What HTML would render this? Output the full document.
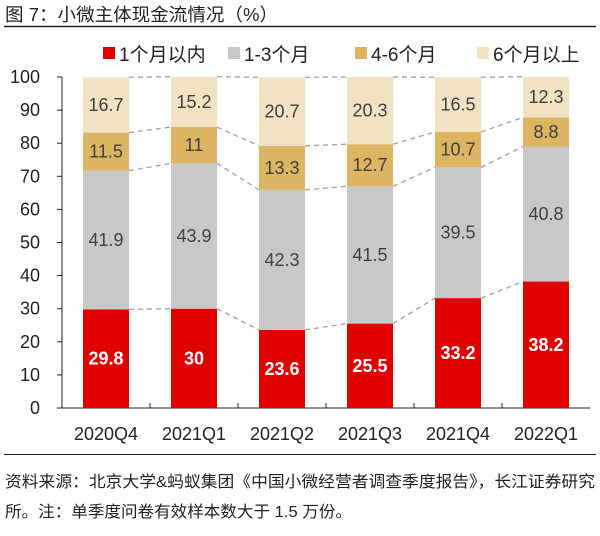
<!DOCTYPE html>
<html><head><meta charset="utf-8">
<style>
body{margin:0;background:#fff;width:600px;height:531px;overflow:hidden;font-family:"Liberation Sans","Noto Sans CJK SC",sans-serif;}
</style></head><body>
<svg id="c" width="600" height="531" xmlns="http://www.w3.org/2000/svg" font-family="Liberation Sans, Noto Sans CJK SC, sans-serif">
<text x="5" y="21" font-size="18" textLength="273" lengthAdjust="spacingAndGlyphs" fill="#222">图 7：小微主体现金流情况（%）</text>
<line x1="4" y1="26.5" x2="596" y2="26.5" stroke="#222" stroke-width="1.5"/>
<line x1="4" y1="454.5" x2="596" y2="454.5" stroke="#222" stroke-width="1"/>
<text x="5" y="487" font-size="16" textLength="590" lengthAdjust="spacingAndGlyphs" fill="#222">资料来源：北京大学&amp;蚂蚁集团《中国小微经营者调查季度报告》，长江证券研究</text>
<text x="5" y="517" font-size="16" textLength="347" lengthAdjust="spacingAndGlyphs" fill="#222">所。注：单季度问卷有效样本数大于 1.5 万份。</text>
<g id="legend"></g>
<g id="plot"></g>
</svg>
<script>
const categories=["2020Q4","2021Q1","2021Q2","2021Q3","2021Q4","2022Q1"];
const s1=[29.8,30,23.6,25.5,33.2,38.2];
const s2=[41.9,43.9,42.3,41.5,39.5,40.8];
const s3=[11.5,11,13.3,12.7,10.7,8.8];
const s4=[16.7,15.2,20.7,20.3,16.5,12.3];
const seriesNames=["1个月以内","1-3个月","4-6个月","6个月以上"];
const yTicks=[0,10,20,30,40,50,60,70,80,90,100];
const series=[s1,s2,s3,s4];
const colors=["#e00000","#c8c8c8","#dcb462","#f2e2c4"];
const labelColors=["#fff","#404040","#404040","#404040"];
const NS="http://www.w3.org/2000/svg";
const X0=62,W=528,Y0=408,Y100=77,BW=46;
const step=W/categories.length;
const y=v=>Y0-(Y0-Y100)*v/100;
const xc=i=>X0+step*(i+0.5);
const plot=document.getElementById('plot');
function mk(tag,at,parent){const e=document.createElementNS(NS,tag);for(const k in at)e.setAttribute(k,at[k]);(parent||plot).appendChild(e);return e;}
let ax=mk('line',{x1:X0,y1:Y100,x2:X0,y2:Y0,stroke:'#222'});


let bx=mk('line',{x1:X0,y1:Y0,x2:X0+W,y2:Y0,stroke:'#222'});


yTicks.forEach(t=>{
  const tk=mk('line',{x1:X0-5,y1:y(t),x2:X0,y2:y(t),stroke:'#222'});
  
  
  const tl=mk('text',{x:40,y:y(t)+6,'font-size':18,'text-anchor':'end',fill:'#222'});
  tl.textContent=t;
  
  
});
for(let i=1;i<categories.length;i++){
  const tk=mk('line',{x1:X0+step*i,y1:Y0,x2:X0+step*i,y2:Y0-5,stroke:'#222'});
  
  
}
const cum=categories.map((_,i)=>{let a=[0];series.forEach(s=>a.push(a[a.length-1]+s[i]));return a;});
for(let i=0;i<categories.length-1;i++){
  for(let k=1;k<=4;k++){
    const l=mk('line',{x1:xc(i)+BW/2,y1:y(cum[i][k]),x2:xc(i+1)-BW/2,y2:y(cum[i+1][k]),stroke:'#a0a0a0','stroke-dasharray':'5,4','stroke-width':1.3});
    
    
  }
}
categories.forEach((c,i)=>{
  series.forEach((s,k)=>{
    const top=Math.min(cum[i][k+1],100);
    const r=mk('rect',{x:xc(i)-BW/2,y:y(top),width:BW,height:y(cum[i][k])-y(top),fill:colors[k]});
    
    
    const t=mk('text',{x:xc(i),y:(y(cum[i][k])+y(top))/2+6,'font-size':18,'text-anchor':'middle',fill:labelColors[k],'font-weight':k==0?'bold':'normal'});
    t.textContent=s[i];
    
    
  });
  const xl=mk('text',{x:xc(i),y:Y0+32,'font-size':18,'text-anchor':'middle',fill:'#222'});
  xl.textContent=c;
  
  
});
const lg=document.getElementById('legend');
const lx=[103,228,355,477];
seriesNames.forEach((n,k)=>{
  const sw=mk('rect',{x:lx[k],y:47,width:12,height:12,fill:colors[k]},lg);
  
  
  const t=mk('text',{x:lx[k]+16,y:61,'font-size':19,fill:'#222'},lg);
  t.textContent=n;
  
  
});
</script>
</body></html>
